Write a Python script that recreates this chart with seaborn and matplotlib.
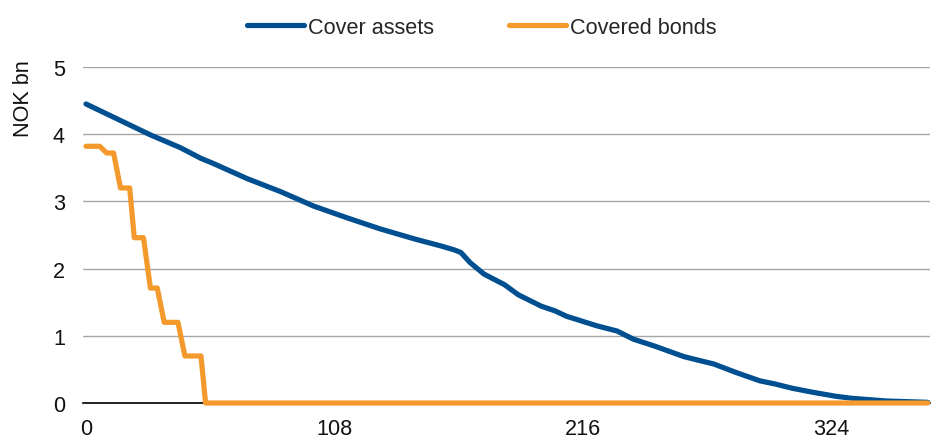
import matplotlib
matplotlib.use("Agg")
import matplotlib.pyplot as plt
import seaborn as sns
import pandas as pd

# ---- data ----
asset_x = [0, 28, 41, 50, 55, 70, 85, 99, 114, 128, 143, 154, 160, 163, 167, 173, 182,
           188, 198, 204, 209, 222, 231, 238, 247, 260, 273, 283, 293, 300, 307,
           316, 326, 333, 348, 366]
asset_y = [4.45, 3.99, 3.80, 3.64, 3.57, 3.34, 3.14, 2.93, 2.75, 2.59, 2.44, 2.34, 2.28,
           2.24, 2.09, 1.92, 1.76, 1.61, 1.44, 1.37, 1.29, 1.15, 1.07, 0.95, 0.85,
           0.69, 0.58, 0.45, 0.33, 0.28, 0.22, 0.16, 0.10, 0.07, 0.03, 0.01]

bond_x = [0, 6, 9, 12, 15, 19, 21, 25, 28, 31, 34, 40, 43, 50, 52, 366]
bond_y = [3.82, 3.82, 3.72, 3.72, 3.20, 3.20, 2.46, 2.46, 1.71, 1.71, 1.20, 1.20,
          0.70, 0.70, 0.0, 0.0]

series_names = ["Cover assets", "Covered bonds"]
x_ticks = [0, 108, 216, 324]
y_ticks = [0, 1, 2, 3, 4, 5]
y_label = "NOK bn"

BLUE = "#004f91"
ORANGE = "#f49a2c"
FS = 15.6

sns.set_theme(style="white")
plt.rcParams["font.family"] = ["Liberation Sans", "DejaVu Sans"]

df_assets = pd.DataFrame({"x": asset_x, "y": asset_y})
df_bonds = pd.DataFrame({"x": bond_x, "y": bond_y})

fig = plt.figure(figsize=(9.31, 4.39), dpi=100)
ax = fig.add_axes([83 / 931, 35 / 439, 847 / 931, 336 / 439])

lw = 3.75
sns.lineplot(data=df_assets, x="x", y="y", ax=ax, color=BLUE, linewidth=lw,
             label=series_names[0], sort=False, estimator=None)
sns.lineplot(data=df_bonds, x="x", y="y", ax=ax, color=ORANGE, linewidth=lw,
             label=series_names[1], sort=False, estimator=None)
for ln in ax.lines:
    ln.set_clip_on(False)
    ln.set_zorder(3)
    ln.set_solid_capstyle("round")
    ln.set_solid_joinstyle("round")

ax.set_xlim(-1.3, 367)
ax.set_ylim(0, 5)
ax.set_xticks(x_ticks)
ax.set_yticks(y_ticks)
ax.tick_params(axis="both", length=0, labelsize=FS, colors="#111111")
ax.tick_params(axis="x", pad=10.5)
ax.tick_params(axis="y", pad=13)

ax.grid(axis="y", color="#a6a6a6", linewidth=1.0)
ax.grid(axis="x", visible=False)
for s in ["left", "right", "top"]:
    ax.spines[s].set_visible(False)
ax.spines["bottom"].set_color("black")
ax.spines["bottom"].set_linewidth(1.2)
ax.spines["bottom"].set_zorder(2.6)

ax.set_xlabel("")
ax.set_ylabel(y_label, fontsize=FS, color="#111111", va="center")
ax.yaxis.set_label_coords(-0.07, 0.909)

handles, labels = ax.get_legend_handles_labels()
ax.legend_.remove()
leg = fig.legend(handles, labels, loc="center", bbox_to_anchor=(481.5 / 931, 1 - 28 / 439),
                 ncol=2, frameon=False, fontsize=FS, handlelength=2.63,
                 handletextpad=0.18, columnspacing=3.46, borderpad=0.0)
for h in leg.legend_handles:
    h.set_linewidth(lw)
    h.set_solid_capstyle("round")

fig.savefig("out.png", dpi=100)
